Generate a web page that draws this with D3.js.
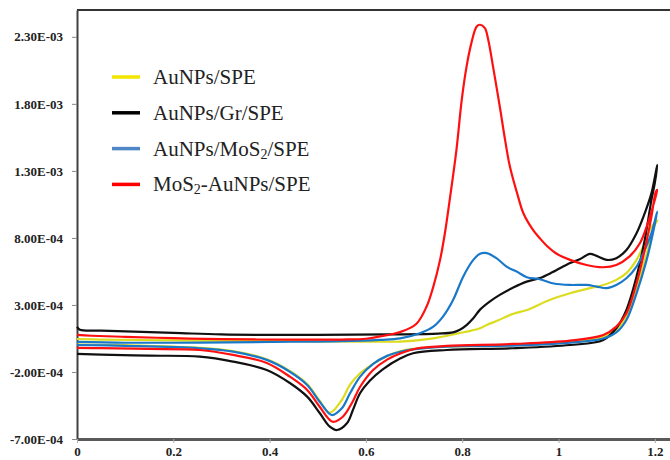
<!DOCTYPE html>
<html>
<head>
<meta charset="utf-8">
<script src="https://cdn.jsdelivr.net/npm/d3@7"></script>
<style>
  body { margin: 0; background: #fff; }
  svg { display: block; }
</style>
</head>
<body>
<svg id="chart" width="670" height="460"></svg>
<script>
// currents are given in units of 1e-4 A, potentials in V
const unit = 1e-4;

const seriesNames = ['AuNPs/SPE', 'AuNPs/Gr/SPE', 'AuNPs/MoS2/SPE', 'MoS2-AuNPs/SPE'];
const seriesColors = ['#dcdc1e', '#111111', '#1a78c9', '#ff1010'];
const legendColors = ['#f2e600', '#000000', '#4f86c6', '#ff0000'];

const xTicks = [0, 0.2, 0.4, 0.6, 0.8, 1, 1.2];
const yTicks = [-7e-4, -2e-4, 3e-4, 8e-4, 1.3e-3, 1.8e-3, 2.3e-3];

// forward (anodic) scans 0 -> 1.2 V
const yellowFwd = [[0,0.46],[0.05,0.42],[0.2,0.36],[0.3,0.33],[0.45,0.30],[0.6,0.27],[0.671,0.27],[0.74,0.51],[0.809,1.01],[0.837,1.26],[0.851,1.51],[0.875,1.85],[0.899,2.25],[0.94,2.7],[0.976,3.3],[1.024,3.87],[1.065,4.25],[1.093,4.49],[1.12,4.87],[1.141,5.37],[1.162,6.36],[1.179,7.6],[1.193,8.84],[1.205,9.3]];
const blackFwd = [[0,1.36],[0.006,1.15],[0.05,1.08],[0.2,0.92],[0.3,0.8],[0.5,0.76],[0.65,0.8],[0.75,0.86],[0.781,0.95],[0.795,1.15],[0.809,1.5],[0.823,2.0],[0.837,2.65],[0.857,3.25],[0.878,3.75],[0.906,4.3],[0.934,4.74],[0.961,5.0],[0.988,5.45],[1.024,6.13],[1.044,6.4],[1.065,6.81],[1.079,6.66],[1.1,6.36],[1.12,6.49],[1.141,7.1],[1.162,8.35],[1.179,9.84],[1.193,11.34],[1.205,13.45]];
const blueFwd = [[0,0.24],[0.1,0.18],[0.25,0.19],[0.4,0.24],[0.55,0.3],[0.629,0.4],[0.671,0.5],[0.712,0.89],[0.74,1.38],[0.76,2.13],[0.781,3.37],[0.802,5.11],[0.823,6.36],[0.837,6.81],[0.851,6.86],[0.871,6.49],[0.892,5.86],[0.913,5.49],[0.934,5.07],[0.961,4.92],[0.99,4.6],[1.024,4.49],[1.058,4.49],[1.079,4.37],[1.1,4.25],[1.12,4.49],[1.141,4.99],[1.162,5.86],[1.179,7.1],[1.193,8.35],[1.205,9.96]];
const redFwd = [[0,0.76],[0.03,0.7],[0.1,0.62],[0.2,0.52],[0.3,0.45],[0.45,0.41],[0.55,0.42],[0.6,0.48],[0.629,0.65],[0.671,0.98],[0.705,1.6],[0.726,2.88],[0.74,4.37],[0.754,6.36],[0.764,8.35],[0.774,10.84],[0.788,14.57],[0.799,18.3],[0.809,20.78],[0.819,22.53],[0.83,23.77],[0.837,23.9],[0.847,23.65],[0.854,22.78],[0.864,20.78],[0.878,17.8],[0.889,15.31],[0.899,13.32],[0.916,11.08],[0.927,9.84],[0.947,8.6],[0.961,7.98],[0.976,7.4],[0.997,6.8],[1.024,6.36],[1.058,5.98],[1.093,5.81],[1.12,5.98],[1.147,6.6],[1.169,7.6],[1.183,8.84],[1.196,10.34],[1.205,11.58]];

// reverse (cathodic) scans 1.2 -> 0 V
const yellowRev = [[1.205,9.3],[1.2,9.0],[1.183,6.8],[1.162,4.27],[1.141,2.2],[1.12,1.15],[1.093,0.62],[1.024,0.22],[0.905,0.0],[0.768,-0.1],[0.698,-0.28],[0.671,-0.45],[0.644,-0.8],[0.615,-1.4],[0.588,-2.1],[0.567,-2.95],[0.55,-4.09],[0.525,-5.04],[0.504,-4.15],[0.478,-2.9],[0.442,-1.92],[0.394,-1.05],[0.324,-0.45],[0.255,-0.2],[0.1,0.0],[0,0.05]];
const blackRev = [[1.205,13.45],[1.2,12.1],[1.193,10.84],[1.179,7.85],[1.162,5.11],[1.141,2.63],[1.12,1.26],[1.093,0.39],[1.024,0.01],[0.905,-0.23],[0.768,-0.36],[0.698,-0.6],[0.671,-1.0],[0.635,-1.8],[0.608,-2.65],[0.588,-3.57],[0.573,-4.84],[0.561,-5.81],[0.54,-6.33],[0.525,-6.08],[0.504,-5.06],[0.478,-3.84],[0.442,-2.82],[0.394,-1.85],[0.324,-1.23],[0.255,-0.86],[0.15,-0.78],[0.05,-0.7],[0,-0.65]];
const blueRev = [[1.205,9.96],[1.196,8.35],[1.183,6.36],[1.162,3.87],[1.141,1.88],[1.12,0.95],[1.093,0.5],[1.024,0.19],[0.905,-0.03],[0.768,-0.11],[0.698,-0.31],[0.671,-0.5],[0.644,-0.8],[0.615,-1.4],[0.588,-2.35],[0.567,-3.59],[0.55,-4.71],[0.529,-5.21],[0.504,-4.22],[0.478,-2.97],[0.442,-1.98],[0.394,-1.1],[0.324,-0.48],[0.255,-0.23],[0.1,-0.05],[0,0.01]];
const redRev = [[1.205,11.58],[1.202,11.45],[1.193,9.59],[1.179,7.1],[1.162,4.62],[1.141,2.38],[1.12,1.38],[1.093,0.76],[1.024,0.34],[0.905,0.09],[0.768,-0.06],[0.705,-0.25],[0.671,-0.62],[0.644,-1.08],[0.615,-1.85],[0.588,-3.1],[0.571,-4.31],[0.552,-5.34],[0.531,-5.71],[0.504,-4.59],[0.478,-3.34],[0.442,-2.35],[0.394,-1.33],[0.324,-0.73],[0.255,-0.36],[0.15,-0.28],[0.05,-0.22],[0,-0.21]];

const forward = [yellowFwd, blackFwd, blueFwd, redFwd];
const reverse = [yellowRev, blackRev, blueRev, redRev];

const svg = d3.select('#chart');
const serif = "'Liberation Serif', 'Times New Roman', serif";

const x = d3.scaleLinear().domain([0, 1.2315]).range([77, 670]);
const y = d3.scaleLinear().domain([-7e-4, 2.5e-3]).range([439, 10]);

// top border of the plot area
svg.append('line')
  .attr('x1', x(0)).attr('x2', x.range()[1])
  .attr('y1', y(2.5e-3)).attr('y2', y(2.5e-3))
  .attr('stroke', '#333').attr('stroke-width', 2);

// y axis
const yAxis = svg.append('g')
  .attr('transform', `translate(${x(0)},0)`)
  .call(d3.axisLeft(y).tickValues(yTicks).tickSize(5).tickSizeOuter(0).tickPadding(9)
    .tickFormat(d => {
      const [m, e] = d.toExponential(2).split('e');
      const n = Math.abs(+e);
      return m + 'E' + (+e < 0 ? '-' : '+') + (n < 10 ? '0' + n : n);
    }));
yAxis.select('.domain').attr('stroke', '#404040').attr('stroke-width', 2);
yAxis.selectAll('.tick line').attr('stroke', '#888');
yAxis.selectAll('.tick text')
  .attr('font-family', serif).attr('font-size', 13).attr('font-weight', 'bold').attr('fill', '#222');

// curves
const line = d3.line()
  .x(d => x(d[0]))
  .y(d => y(d[1] * unit))
  .curve(d3.curveCatmullRom.alpha(0.5));

svg.append('g').selectAll('path')
  .data(forward.map((f, i) => f.concat(reverse[i].slice(1))))
  .join('path')
  .attr('d', line)
  .attr('fill', 'none')
  .attr('stroke', (d, i) => seriesColors[i])
  .attr('stroke-width', 2.2)
  .attr('stroke-linejoin', 'round');

// x axis
const xAxis = svg.append('g')
  .attr('transform', `translate(0,${y(-7e-4)})`)
  .call(d3.axisBottom(x).tickValues(xTicks).tickSize(4).tickSizeOuter(0).tickPadding(4)
    .tickFormat(d => String(d)));
xAxis.select('.domain').attr('stroke', '#5a5a5a').attr('stroke-width', 3);
xAxis.selectAll('.tick line').attr('stroke', '#aaa');
xAxis.selectAll('.tick text')
  .attr('font-family', serif).attr('font-size', 13).attr('font-weight', 'bold').attr('fill', '#222');

// legend
const legend = svg.append('g').attr('transform', 'translate(112,77)');
const item = legend.selectAll('g')
  .data(seriesNames)
  .join('g')
  .attr('transform', (d, i) => `translate(0,${i * 35.8})`);
item.append('line')
  .attr('x1', 0).attr('x2', 28)
  .attr('stroke', (d, i) => legendColors[i])
  .attr('stroke-width', 3.5);
const label = item.append('text')
  .attr('x', 41).attr('y', 7)
  .attr('font-family', serif).attr('font-size', 21).attr('fill', '#222');
label.each(function(name) {
  const t = d3.select(this);
  const parts = name.split('2');
  parts.forEach((p, k) => {
    t.append('tspan').text(p).attr('dy', k > 0 ? -3 : null);
    if (k < parts.length - 1) {
      t.append('tspan').text('2').attr('font-size', 14).attr('dy', 3);
    }
  });
});
</script>
</body>
</html>
